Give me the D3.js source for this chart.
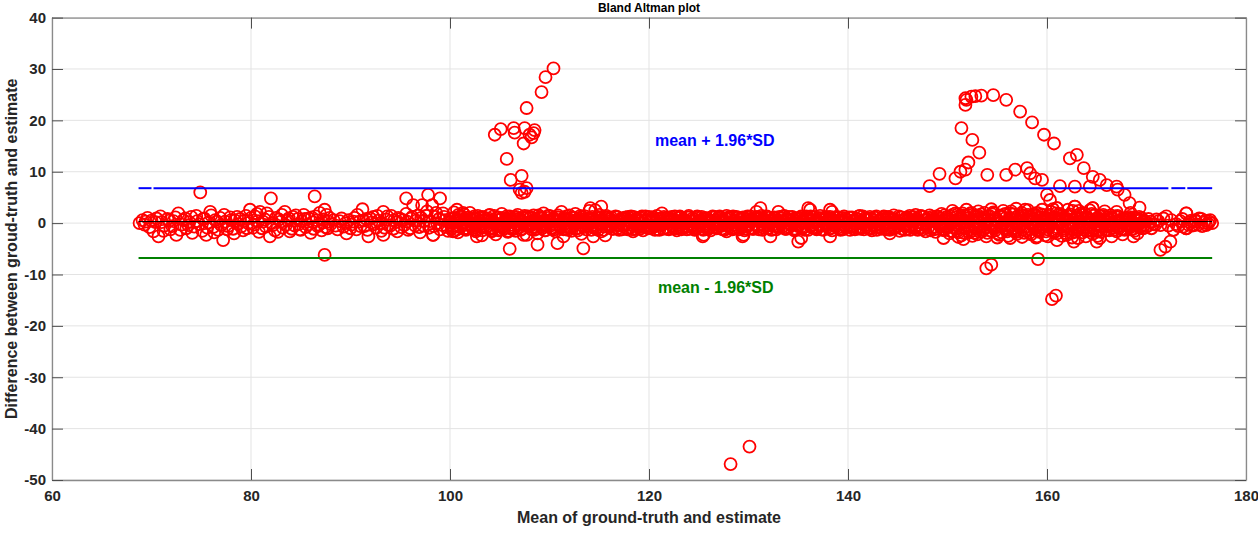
<!DOCTYPE html>
<html>
<head>
<meta charset="utf-8">
<script src="https://cdn.jsdelivr.net/npm/d3@7"></script>
<style>
  body { margin: 0; background: #fff; }
  svg text { font-family: "Liberation Sans", Arial, Helvetica, sans-serif; font-weight: bold; }
</style>
</head>
<body>
<div id="holder"></div>
<script>
// axis ticks
var xTicks = [60, 80, 100, 120, 140, 160, 180];
var yTicks = [-50, -40, -30, -20, -10, 0, 10, 20, 30, 40];

// limits of agreement
var meanDiff = 0.3;
var upperLoA = 6.8;
var lowerLoA = -6.8;
var lineRange = [68.7, 176.6];
var upperPieces = [[68.7, 70.0], [70.2, 172.2], [172.5, 173.9], [174.1, 176.6]];

// [mean, difference] pairs
var bandLeft = [
  [68.8,0.0],[69.1,0.6],[69.4,0.3],[69.6,1.0],[70.0,0.5],[70.2,-1.6],[70.5,0.9],[70.7,-2.6],[71.0,0.2],[71.3,-0.5],
  [71.6,0.8],[71.9,-1.2],[72.2,0.4],[72.5,-2.3],[72.7,1.9],[73.0,-0.3],[73.2,0.6],[73.5,-1.0],[73.8,0.2],[74.0,1.2],
  [74.3,-0.7],[74.6,0.4],[74.9,6.0],[75.1,-1.5],[75.3,0.9],[75.5,-2.3],[75.7,0.1],[75.9,2.2],[76.2,-0.8],[76.4,0.6],
  [76.7,-1.3],[76.9,1.0],[77.2,-3.3],[77.4,0.3],[77.7,-0.6],[77.9,1.1],[78.2,-1.1],[78.4,0.5],[78.7,-0.2],[78.9,0.8],
  [79.2,-1.4],[79.5,1.4],[79.7,0.0],[79.9,2.6],[80.2,-0.9],[80.4,1.3],[80.7,0.4],[80.9,2.2],[81.1,-1.0],[81.4,0.7],
  [81.6,1.9],[81.9,-2.6],[82.0,4.8],[82.2,-0.4],[82.5,1.0],[82.7,-1.7],[83.0,0.3],[83.2,-0.9],[83.4,2.2],[83.7,0.5],
  [83.9,-1.6],[84.2,1.2],[84.4,-0.5],[84.7,0.8],[84.9,-1.2],[85.1,0.4],[85.3,1.6],[85.5,-0.8],[85.8,0.9],[86.0,-1.9],
  [86.2,0.2],[86.4,5.2],[86.5,1.3],[86.7,-0.6],[86.9,2.0],[87.1,-1.4],[87.3,0.7],[87.4,2.6],[87.4,-6.2],[87.6,1.6],
  [87.7,-1.0],[87.8,0.3],[88.0,-0.2],[88.5,-0.5],[88.9,0.4],[89.3,-0.7],[89.6,-2.0],[89.8,0.6],[90.1,-0.3],[90.4,1.0],
  [90.6,-1.2],[90.9,0.3],[91.2,2.7],[91.4,-0.6],[91.6,0.8],[91.8,-2.6],[92.1,0.1],[92.3,1.2],[92.6,-0.9],[92.8,0.5],
  [93.1,-1.5],[93.3,2.2],[93.3,-2.3],[93.6,0.7],[93.8,-0.4],[94.1,1.4],[94.3,-1.1],[94.6,0.2],[94.8,1.0],[95.1,-0.8],
  [95.3,0.6],[95.6,4.8],[95.6,1.8],[95.8,-1.3],[96.1,0.9],[96.3,3.5],[96.5,-0.5],[96.8,1.5],[97.0,-1.8],[97.2,3.5],
  [97.4,0.4],[97.8,5.5],[97.7,2.3],[97.9,-0.9],[98.2,3.5],[98.3,-2.3],[98.5,1.2],[98.7,0.0],[99.0,4.8],[99.0,-1.2],
  [99.3,1.9],[99.5,0.6],[99.8,-1.5]
];

var bandLeft2 = [
  [69.3,-0.3],[69.8,-0.8],[70.4,0.2],[70.9,1.3],[71.2,-1.5],[71.8,0.5],[72.1,-0.6],[72.4,1.1],[72.9,-1.3],[73.4,0.9],
  [73.7,-0.4],[74.1,-1.9],[74.5,1.4],[74.8,-0.2],[75.2,0.8],[75.6,-0.9],[76.0,1.5],[76.3,-1.8],[76.6,0.3],[77.0,-0.4],
  [77.3,1.6],[77.6,-1.2],[78.0,0.6],[78.3,-2.0],[78.6,1.2],[79.0,-0.7],[79.3,0.4],[79.6,-1.0],[80.0,1.0],[80.3,-0.3],
  [80.6,1.8],[80.8,-1.7],[81.2,0.3],[81.5,-0.7],[81.8,1.2],[82.1,0.0],[82.4,-1.4],[82.8,0.7],[83.1,1.6],[83.5,-0.4],
  [83.8,0.9],[84.1,-1.1],[84.5,1.5],[84.8,-0.2],[85.0,-1.3],[85.4,0.8],[85.7,-0.3],[86.1,1.1],[86.3,-1.1],[86.6,0.6],
  [86.8,-0.3],[87.2,0.1],[87.5,-0.8],[87.9,1.0],[88.3,0.6],[88.7,-1.2],[89.1,0.9],[89.5,0.0],[90.0,-1.0],[90.3,0.3],
  [90.7,1.6],[91.0,-0.6],[91.3,0.5],[91.7,-1.3],[92.0,0.9],[92.4,-0.2],[92.7,1.4],[93.0,0.0],[93.4,-0.9],[93.7,1.3],
  [94.0,-0.5],[94.4,0.6],[94.7,-1.6],[95.0,0.8],[95.4,-0.4],[95.7,0.3],[96.0,-1.0],[96.2,1.2],[96.6,0.5],[96.9,-0.8],
  [97.1,1.0],[97.3,-0.5],[97.6,1.4],[98.0,0.4],[98.4,-0.6],[98.6,2.0],[98.9,0.8],[99.2,-0.4],[99.4,1.2],[99.7,-0.8],
  [99.9,0.3]
];

var bandMid = [
  [100.0,0.8],[100.2,-1.0],[100.4,2.1],[100.6,0.3],[100.8,-1.8],[101.0,1.2],[101.2,-0.4],[101.4,1.7],[101.6,-1.3],[101.8,0.5],
  [102.0,2.0],[102.2,-0.7],[102.4,0.9],[102.6,-1.6],[102.8,1.4],[103.0,-0.2],[103.2,-2.4],[103.4,1.0],[103.6,-0.9],[103.8,0.6],
  [104.0,1.6],[104.2,-1.4],[104.4,0.2],[104.6,-2.2],[104.8,1.1],[105.0,-0.6],[105.2,1.8],[105.4,-1.1],[105.6,0.4],[105.8,-1.7],
  [106.0,1.3],[106.2,-0.3],[106.4,0.8],[106.6,-1.5],[106.8,1.6],[107.0,-0.8],[107.2,0.5],[107.4,-2.3],[107.6,1.2],[107.8,-0.5],
  [108.0,0.9],[108.2,-1.2],[108.4,1.5],[108.6,-0.1],[108.8,-2.0],[109.0,1.0],[109.2,-0.7],[109.4,1.9],[109.6,-1.4],[109.8,0.3],
  [110.0,1.4],[110.2,-0.9],[110.4,0.6],[110.6,-1.6],[110.8,1.1],[111.0,-0.4],[111.2,2.2],[111.4,-1.2],[111.6,0.7],[111.8,-0.8],
  [112.0,1.5],[112.2,-1.5],[112.4,0.2],[112.6,1.8],[112.8,-1.0],[113.0,0.9],[113.2,-2.1],[113.4,0.4],[113.6,1.3],[113.8,-0.6],
  [114.0,2.4],[114.2,-1.3],[114.4,0.8],[114.6,2.5],[114.8,-0.9],[115.0,1.6],[115.2,-1.6],[115.4,0.5],[115.6,-2.4],[115.8,1.0],
  [116.0,-0.5],[116.2,1.1],[116.4,-1.1],[116.6,0.3],[116.8,1.2],[117.0,-1.3],[117.2,0.6],[117.4,-0.2],[117.6,1.0],[117.8,-1.0],
  [118.0,0.4],[118.2,1.3],[118.4,-1.2],[118.6,0.1],[118.8,0.9],[119.0,-0.8],[119.2,1.1],[119.4,-1.4],[119.6,0.5],[119.8,-0.3],
  [120.0,1.2],[120.2,-1.0],[120.4,0.7],[120.6,-1.3],[120.8,1.4],[121.0,-0.4],[121.2,0.8],[121.4,-1.1],[121.6,0.2],[121.8,1.0],
  [122.0,-1.2],[122.2,0.6],[122.4,-0.6],[122.6,1.3],[122.8,-1.4],[123.0,0.3],[123.2,1.1],[123.4,-0.9],[123.6,0.5],[123.8,-1.2],
  [124.0,1.4],[124.2,-0.2],[124.4,0.9],[124.6,-1.3],[124.8,1.2],[125.0,-0.7],[125.2,0.4],[125.4,-1.1],[125.6,1.0],[125.8,-0.5],
  [126.0,0.7],[126.2,-1.4],[126.4,1.3],[126.6,0.0],[126.8,-1.0],[127.0,1.1],[127.2,-0.6],[127.4,0.6],[127.6,-1.3],[127.8,1.4],
  [128.0,-0.3],[128.2,0.9],[128.4,-1.2],[128.6,0.4],[128.8,1.2],[129.0,-0.9],[129.2,0.2],[129.4,1.0],[129.6,-1.4],[129.8,0.7],
  [130.0,-0.5],[130.2,1.3],[130.4,-1.1],[130.6,0.5],[130.8,2.2],[131.0,-0.8],[131.2,1.0],[131.4,-1.3],[131.6,0.3],[131.8,1.2],
  [132.0,-1.0],[132.2,0.6],[132.4,-0.4],[132.6,1.1],[132.8,-1.2],[133.0,0.2],[133.2,0.9],[133.4,-0.7],[133.6,1.4],[133.8,-1.1],
  [134.0,0.5],[134.2,-0.2],[134.4,1.2],[134.6,-1.4],[134.8,0.8],[135.0,-0.6],[135.2,1.0],[135.4,-1.0],[135.6,0.3],[135.8,1.3],
  [136.0,-1.3],[136.2,0.7],[136.4,-0.3],[136.6,1.1],[136.8,-0.9],[137.0,0.4],[137.2,1.4],[137.4,-1.2],[137.6,0.1],[137.8,0.9],
  [138.0,-0.7],[138.2,1.2],[138.4,-1.4],[138.6,0.6],[138.8,-0.1],[139.0,1.0],[139.2,-1.1],[139.4,0.4],[139.6,1.3],[139.8,-0.8],
  [140.0,0.2],[140.2,-1.3],[140.4,1.1],[140.6,-0.5],[140.8,0.8],[141.0,-1.0],[141.2,1.4],[141.4,0.0],[141.6,-1.2],[141.8,0.7],
  [142.0,-0.4],[142.2,1.2],[142.4,-1.4],[142.6,0.5],[142.8,1.0],[143.0,-0.8],[143.2,0.3],[143.4,-1.1],[143.6,1.3],[143.8,-0.2],
  [144.0,0.9],[144.2,-1.3],[144.4,0.6],[144.6,1.5],[144.8,-0.9],[145.0,0.1],[145.2,-1.5],[145.4,1.1],[145.6,-0.4],[145.8,0.8],
  [146.0,-1.1],[146.2,1.4],[146.4,-0.6],[146.6,0.5],[146.8,1.6],[147.0,-1.3],[147.2,0.2],[147.4,-0.8],[147.6,1.2],[147.8,-1.6],
  [148.0,0.7],[148.2,1.5],[148.4,-1.0],[148.6,0.3],[148.8,-1.7],[149.0,1.3],[149.2,-0.3],[149.4,1.8],[149.6,-1.2],[149.8,0.5]
];

var bandMid2 = [
  [100.1,0.2],[100.3,-0.6],[100.5,1.0],[100.7,-1.2],[100.9,0.5],[101.1,1.3],[101.3,-0.3],[101.5,0.7],[101.7,-1.0],[101.9,1.1],
  [102.1,-0.4],[102.3,0.6],[102.5,-1.3],[102.7,0.9],[102.9,0.1],[103.1,-0.8],[103.3,1.2],[103.5,-0.5],[103.7,0.3],[103.9,1.5],
  [104.1,-1.1],[104.3,0.4],[104.5,-0.2],[104.7,1.0],[104.9,-1.4],[105.1,0.7],[105.3,-0.7],[105.5,0.2],[105.7,1.3],[105.9,-0.9],
  [106.1,0.6],[106.3,-1.2],[106.5,1.1],[106.7,-0.1],[106.9,0.8],[107.1,-1.3],[107.3,0.3],[107.5,1.4],[107.7,-0.6],[107.9,0.0],
  [108.1,1.2],[108.3,-0.8],[108.5,0.4],[108.7,-1.1],[108.9,1.5],[109.1,-0.3],[109.3,0.9],[109.5,-1.4],[109.7,0.1],[109.9,1.0],
  [110.1,-0.5],[110.3,0.8],[110.5,-1.2],[110.7,0.3],[110.9,1.1],[111.1,-0.9],[111.3,0.5],[111.5,-0.2],[111.7,1.3],[111.9,-1.3],
  [112.1,0.4],[112.3,-0.6],[112.5,1.0],[112.7,-1.0],[112.9,0.2],[113.1,1.4],[113.3,-0.4],[113.5,0.7],[113.7,-1.2],[113.9,0.9],
  [114.1,-0.1],[114.3,1.2],[114.5,-0.8],[114.7,0.5],[114.9,-1.3],[115.1,1.0],[115.3,0.0],[115.5,-0.7],[115.7,1.4],[115.9,-0.3],
  [116.1,0.8],[116.3,-1.1],[116.5,0.3],[116.7,1.1],[116.9,-0.5],[117.1,0.6],[117.3,-1.2],[117.5,0.9],[117.7,-0.2],[117.9,1.2],
  [118.1,-0.9],[118.3,0.2],[118.5,1.0],[118.7,-0.4],[118.9,0.7],[119.1,-1.1],[119.3,1.3],[119.5,-0.6],[119.7,0.4],[119.9,-1.0],
  [120.1,0.5],[120.3,1.1],[120.5,-0.7],[120.7,0.1],[120.9,-1.2],[121.1,0.9],[121.3,-0.3],[121.5,1.2],[121.7,-0.9],[121.9,0.3],
  [122.1,1.0],[122.3,-0.5],[122.5,0.7],[122.7,-1.0],[122.9,0.2],[123.1,1.3],[123.3,-0.8],[123.5,0.6],[123.7,-0.1],[123.9,1.1],
  [124.1,-1.1],[124.3,0.4],[124.5,-0.4],[124.7,1.0],[124.9,-0.9],[125.1,0.2],[125.3,1.2],[125.5,-0.6],[125.7,0.8],[125.9,-1.2],
  [126.1,0.3],[126.3,1.1],[126.5,-0.8],[126.7,0.6],[126.9,-0.2],[127.1,1.3],[127.3,-1.1],[127.5,0.1],[127.7,0.9],[127.9,-0.5],
  [128.1,1.2],[128.3,-1.0],[128.5,0.5],[128.7,-0.3],[128.9,1.0],[129.1,-1.2],[129.3,0.7],[129.5,0.0],[129.7,-0.7],[129.9,1.3],
  [130.1,-0.2],[130.3,0.8],[130.5,-1.1],[130.7,1.1],[130.9,-0.5],[131.1,0.3],[131.3,1.4],[131.5,-0.9],[131.7,0.6],[131.9,-0.4],
  [132.1,1.0],[132.3,-1.3],[132.5,0.4],[132.7,0.9],[132.9,-0.6],[133.1,1.2],[133.3,-0.2],[133.5,0.5],[133.7,-1.1],[133.9,0.8],
  [134.1,-0.8],[134.3,1.1],[134.5,0.1],[134.7,-1.2],[134.9,0.7],[135.1,-0.4],[135.3,1.3],[135.5,-0.9],[135.7,0.2],[135.9,1.0],
  [136.1,0.4],[136.3,-0.6],[136.5,1.2],[136.7,-1.0],[136.9,0.6],[137.1,-0.2],[137.3,0.9],[137.5,-1.3],[137.7,1.1],[137.9,0.0],
  [138.1,-1.1],[138.3,0.7],[138.5,0.3],[138.7,-0.5],[138.9,1.2],[139.1,-0.8],[139.3,0.5],[139.5,-1.2],[139.7,0.9],[139.9,-0.1],
  [140.1,1.1],[140.3,-0.7],[140.5,0.4],[140.7,-1.2],[140.9,0.8],[141.1,0.1],[141.3,-0.9],[141.5,1.3],[141.7,-0.4],[141.9,0.6],
  [142.1,-1.0],[142.3,0.9],[142.5,-0.3],[142.7,1.1],[142.9,-1.3],[143.1,0.4],[143.3,0.8],[143.5,-0.6],[143.7,1.2],[143.9,-0.9],
  [144.1,0.2],[144.3,1.0],[144.5,-1.1],[144.7,0.7],[144.9,-0.5],[145.1,1.3],[145.3,-0.2],[145.5,0.5],[145.7,-1.3],[145.9,1.1],
  [146.1,-0.6],[146.3,0.3],[146.5,1.2],[146.7,-1.0],[146.9,0.8],[147.1,-0.3],[147.3,1.4],[147.5,-1.2],[147.7,0.6],[147.9,0.0],
  [148.1,1.0],[148.3,-1.4],[148.5,0.5],[148.7,-0.7],[148.9,1.3],[149.1,-0.2],[149.3,0.9],[149.5,-1.1],[149.7,1.5],[149.9,-0.5],
  [150.1,0.7],[150.3,-1.5],[150.5,1.6],[150.7,-0.3],[150.9,1.1],[151.1,-1.8],[151.3,0.4],[151.5,1.9],[151.7,-1.0],[151.9,0.2],
  [152.1,1.5],[152.3,-1.2],[152.5,0.6],[152.7,-1.9],[152.9,1.3],[153.1,-0.5],[153.3,0.9],[153.5,-1.6],[153.7,2.0],[153.9,-0.1],
  [154.1,0.8],[154.3,-1.4],[154.5,1.7],[154.7,-0.8],[154.9,0.3],[155.1,-2.0],[155.3,1.2],[155.5,-0.6],[155.7,1.6],[155.9,-1.3],
  [156.1,0.5],[156.3,1.9],[156.5,-1.1],[156.7,0.2],[156.9,-1.7],[157.1,1.4],[157.3,-0.4],[157.5,1.0],[157.7,-1.9],[157.9,0.7],
  [158.1,1.6],[158.3,-1.2],[158.5,0.3],[158.7,1.8],[158.9,-0.7],[159.1,-1.5],[159.3,1.1],[159.5,-0.2],[159.7,0.9],[159.9,-1.6],
  [160.1,1.4],[160.3,-0.5],[160.5,0.6],[160.7,-1.8],[160.9,1.9],[161.1,-0.9],[161.3,0.2],[161.5,1.3],[161.7,-1.4],[161.9,0.8],
  [162.1,-0.6],[162.3,1.7],[162.5,-1.9],[162.7,0.5],[162.9,1.1],[163.1,-1.2],[163.3,0.3],[163.5,1.6],[163.7,-0.8],[163.9,-1.5],
  [164.1,1.0],[164.3,-0.3],[164.5,1.8],[164.7,-1.1],[164.9,0.4],[165.1,-1.6],[165.3,1.3],[165.5,-0.7],[165.7,0.6],[165.9,-1.4],
  [166.1,1.2],[166.3,-0.5],[166.5,0.9],[166.7,-1.3],[166.9,0.2],[167.1,1.4],[167.3,-0.9],[167.5,0.5],[167.7,-1.1],[167.9,1.0],
  [168.1,-0.4],[168.3,0.8],[168.5,-1.2],[168.7,1.1],[168.9,-0.2],[169.1,0.6],[169.3,-0.9],[169.5,1.0],[169.7,-0.5],[169.9,0.3]
];

var bandMid3 = [
  [100.05,-0.3],[100.25,0.9],[100.45,-1.5],[100.65,0.4],[100.85,1.6],[101.05,-0.8],[101.25,0.1],[101.45,-1.1],[101.65,1.0],[101.85,-0.2],
  [102.05,0.7],[102.25,-1.0],[102.45,1.3],[102.65,0.0],[102.85,-0.5],[103.05,1.1],[103.25,-1.4],[103.45,0.5],[103.65,-0.7],[103.85,0.9],
  [104.05,0.3],[104.25,-0.9],[104.45,1.4],[104.65,-0.4],[104.85,0.6],[105.05,-1.2],[105.25,1.0],[105.45,-0.1],[105.65,0.8],[105.85,-1.5],
  [106.05,1.0],[106.25,0.2],[106.45,-0.9],[106.65,1.2],[106.85,-0.4],[107.05,0.5],[107.25,-1.1],[107.45,0.9],[107.65,-0.3],[107.85,1.3],
  [108.05,-0.6],[108.25,0.4],[108.45,-1.3],[108.65,0.7],[108.85,0.0],[109.05,1.2],[109.25,-1.0],[109.45,0.5],[109.65,-0.4],[109.85,1.4],
  [110.05,0.2],[110.25,-1.1],[110.45,0.9],[110.65,-0.3],[110.85,1.5],[111.05,-0.7],[111.25,0.1],[111.45,1.0],[111.65,-1.2],[111.85,0.6],
  [112.05,-0.9],[112.25,1.1],[112.45,-0.2],[112.65,0.6],[112.85,-1.4],[113.05,0.3],[113.25,1.2],[113.45,-0.8],[113.65,0.4],[113.85,-0.1],
  [114.05,1.0],[114.25,-0.5],[114.45,0.3],[114.65,-1.1],[114.85,1.2],[115.05,-0.2],[115.25,0.7],[115.45,-1.3],[115.65,0.5],[115.85,1.1],
  [116.05,-0.8],[116.25,0.5],[116.45,-0.1],[116.65,1.3],[116.85,-1.0],[117.05,0.2],[117.25,0.9],[117.45,-0.6],[117.65,1.1],[117.85,-1.2],
  [118.05,0.6],[118.25,-0.3],[118.45,1.2],[118.65,-1.1],[118.85,0.4],[119.05,1.0],[119.25,-0.7],[119.45,0.0],[119.65,1.3],[119.85,-0.5],
  [120.05,-0.9],[120.25,0.4],[120.45,1.1],[120.65,-0.5],[120.85,0.8],[121.05,-1.3],[121.25,0.3],[121.45,-0.1],[121.65,1.0],[121.85,-1.1],
  [122.05,0.5],[122.25,1.2],[122.45,-0.9],[122.65,0.2],[122.85,-0.4],[123.05,1.0],[123.25,-1.2],[123.45,0.8],[123.65,0.1],[123.85,-0.7],
  [124.05,1.1],[124.25,-0.6],[124.45,0.3],[124.65,-1.0],[124.85,1.3],[125.05,-0.3],[125.25,0.6],[125.45,-1.3],[125.65,0.2],[125.85,0.9],
  [126.05,-1.0],[126.25,0.5],[126.45,-0.2],[126.65,1.2],[126.85,-0.8],[127.05,0.3],[127.25,1.0],[127.45,-1.2],[127.65,0.4],[127.85,-0.4],
  [128.05,0.9],[128.25,-0.6],[128.45,1.3],[128.65,-1.0],[128.85,0.1],[129.05,0.7],[129.25,-0.4],[129.45,1.1],[129.65,-1.1],[129.85,0.3],
  [130.05,1.0],[130.25,-0.9],[130.45,0.6],[130.65,-0.2],[130.85,1.2],[131.05,-1.2],[131.25,0.4],[131.45,0.8],[131.65,-0.6],[131.85,1.3],
  [132.05,-0.5],[132.25,0.3],[132.45,-1.2],[132.65,1.0],[132.85,0.5],[133.05,-0.8],[133.25,0.0],[133.45,1.3],[133.65,-1.0],[133.85,0.6],
  [134.05,1.2],[134.25,-0.4],[134.45,0.7],[134.65,-1.1],[134.85,0.3],[135.05,1.0],[135.25,-0.8],[135.45,0.5],[135.65,-1.3],[135.85,0.8],
  [136.05,-0.2],[136.25,1.3],[136.45,-0.9],[136.65,0.3],[136.85,-1.2],[137.05,1.0],[137.25,-0.5],[137.45,0.6],[137.65,-0.1],[137.85,1.2],
  [138.05,0.8],[138.25,-1.0],[138.45,0.2],[138.65,1.1],[138.85,-0.6],[139.05,0.4],[139.25,-1.3],[139.45,1.0],[139.65,-0.3],[139.85,0.7],
  [140.05,-0.6],[140.25,1.0],[140.45,-1.0],[140.65,0.6],[140.85,-0.2],[141.05,1.3],[141.25,-1.1],[141.45,0.3],[141.65,0.9],[141.85,-0.8],
  [142.05,0.6],[142.25,-1.1],[142.45,0.2],[142.65,-0.6],[142.85,1.3],[143.05,-0.9],[143.25,0.5],[143.45,1.0],[143.65,-0.3],[143.85,-1.2],
  [144.05,1.2],[144.25,-0.4],[144.45,0.8],[144.65,-1.0],[144.85,0.3],[145.05,-0.6],[145.25,1.1],[145.45,-1.1],[145.65,0.7],[145.85,-0.2],
  [146.05,0.9],[146.25,-1.3],[146.45,0.4],[146.65,1.1],[146.85,-0.7],[147.05,0.2],[147.25,-1.0],[147.45,1.3],[147.65,-0.4],[147.85,0.6],
  [148.05,-0.9],[148.25,0.3],[148.45,1.2],[148.65,-1.2],[148.85,0.6],[149.05,1.0],[149.25,-0.6],[149.45,0.2],[149.65,-1.4],[149.85,1.1],
  [150.05,-0.7],[150.25,1.3],[150.45,-1.6],[150.65,0.5],[150.85,-1.1],[151.05,1.7],[151.25,-0.2],[151.45,0.8],[151.65,-1.9],[151.85,1.4],
  [152.05,-0.4],[152.25,1.8],[152.45,-1.5],[152.65,0.3],[152.85,-1.0],[153.05,1.5],[153.25,-1.7],[153.45,0.6],[153.65,1.1],[153.85,-0.9],
  [154.05,1.3],[154.25,-0.2],[154.45,-1.6],[154.65,1.9],[154.85,-0.9],[155.05,0.4],[155.25,1.5],[155.45,-1.8],[155.65,0.1],[155.85,1.0],
  [156.05,-1.2],[156.25,1.0],[156.45,-0.5],[156.65,1.7],[156.85,-1.4],[157.05,0.4],[157.25,-0.8],[157.45,2.0],[157.65,0.0],[157.85,-1.5],
  [158.05,0.5],[158.25,-1.9],[158.45,1.1],[158.65,-0.4],[158.85,1.4],[159.05,0.2],[159.25,-1.3],[159.45,1.7],[159.65,-0.8],[159.85,0.6],
  [160.05,-1.2],[160.25,1.6],[160.45,-0.1],[160.65,0.9],[160.85,-1.6],[161.05,0.5],[161.25,1.8],[161.45,-0.7],[161.65,1.0],[161.85,-1.9],
  [162.05,0.8],[162.25,-1.1],[162.45,1.3],[162.65,-0.2],[162.85,-1.7],[163.05,1.5],[163.25,-0.5],[163.45,0.9],[163.65,-1.2],[163.85,1.8],
  [164.05,-0.8],[164.25,0.6],[164.45,-1.5],[164.65,1.4],[164.85,-0.3],[165.05,1.0],[165.25,-1.2],[165.45,0.3],[165.65,1.6],[165.85,-0.6],
  [166.05,0.4],[166.25,-1.4],[166.45,1.0],[166.65,-0.4],[166.85,1.3],[167.05,-0.8],[167.25,0.6],[167.45,-1.2],[167.65,0.8],[167.85,-0.3],
  [168.05,1.0],[168.25,-0.7],[168.45,0.4],[168.65,-1.1],[168.85,0.9],[169.05,-0.2],[169.25,1.2],[169.45,-0.6],[169.65,0.3],[169.85,-0.9]
];

var bandRight = [
  [150.0,1.2],[150.2,-2.0],[150.4,0.4],[150.6,-0.9],[150.8,1.9],[151.0,-1.5],[151.2,0.8],[151.4,-2.4],[151.6,1.5],[151.8,-0.4],
  [152.0,0.9],[152.2,-1.8],[152.4,2.0],[152.6,-0.7],[152.8,1.1],[153.0,-2.2],[153.2,0.3],[153.4,1.7],[153.6,-1.2],[153.8,0.6],
  [154.0,-1.9],[154.2,1.4],[154.4,-0.5],[154.6,2.1],[154.8,-1.4],[155.0,0.7],[155.2,-2.3],[155.4,1.2],[155.6,-0.2],[155.8,1.8],
  [156.0,-1.6],[156.2,0.5],[156.4,2.3],[156.6,-1.0],[156.8,1.0],[157.0,-2.1],[157.2,0.2],[157.4,1.6],[157.6,-1.3],[157.8,2.6],
  [158.0,-0.6],[158.2,1.3],[158.4,-2.2],[158.6,0.8],[158.8,-1.0],[159.0,2.0],[159.2,-1.7],[159.4,0.4],[159.6,1.5],[159.8,-2.4],
  [160.0,0.9],[160.2,-0.8],[160.4,2.2],[160.6,-1.5],[160.8,1.1],[161.0,-2.0],[161.2,0.3],[161.4,1.7],[161.6,-1.1],[161.8,0.6],
  [162.0,-2.3],[162.2,1.4],[162.4,-0.4],[162.6,2.4],[162.8,-1.6],[163.0,0.8],[163.2,-0.9],[163.4,1.9],[163.6,-1.8],[163.8,0.2],
  [164.0,1.2],[164.2,-1.4],[164.4,0.6],[164.6,-2.1],[164.8,1.6],[165.0,-0.5],[165.2,0.9],[165.4,-1.7],[165.6,1.3],[165.8,-0.2],
  [166.0,-1.2],[166.2,0.7],[166.4,1.5],[166.6,-0.9],[166.8,0.3],[167.0,-1.6],[167.2,1.1],[167.4,-0.4],[167.6,0.8],[167.8,-1.3],
  [168.0,0.5],[168.2,1.2],[168.4,-0.8],[168.6,0.2],[168.8,-1.5],[169.0,0.9],[169.2,-0.3],[169.4,0.6],[169.6,-1.0],[169.8,0.4],
  [170.1,-0.6],[170.4,0.3],[170.7,-0.2],[171.0,0.7],[171.4,-0.4],[172.0,1.3],[172.7,-1.3],[173.0,-0.2],[173.4,0.4],[173.7,-0.7],
  [174.0,1.9],[174.0,-1.0],[174.3,0.2],[174.6,-0.5],[174.9,0.6],[175.2,-0.3],[175.5,0.8],[175.8,0.1],[176.0,-0.4],[176.3,0.3],
  [176.6,0.0],[170.2,0.8],[170.5,-1.0],[170.9,-0.3],[171.2,0.4],[171.7,0.9],[172.2,-0.5],[172.5,0.6],[173.2,-0.6],[173.6,0.8],
  [174.2,-0.3],[174.5,0.5],[174.8,-0.4],[175.0,0.3],[175.3,0.9],[175.6,-0.6],[175.9,0.5],[176.2,-0.1],[176.4,0.6]
];

var bandRightEdges = [
  [150.5,2.4],[151.1,-2.7],[151.9,2.6],[152.5,-2.5],[153.1,2.3],[153.9,-2.6],[154.4,2.7],[155.0,-2.8],[155.6,2.4],[156.1,-2.5],
  [156.9,2.8],[157.5,-2.7],[158.1,2.5],[158.9,-2.8],[159.5,2.6],[160.1,-2.6],[160.6,2.7],[161.5,-2.5],[162.1,2.6],[162.5,-2.8],
  [163.2,2.4],[163.9,-2.6],[164.3,2.5],[165.1,-2.5],[165.8,2.3],[166.5,-2.6],[167.0,2.2],[167.6,-2.2],[168.4,2.0],[169.1,-2.0]
];

var bandEdges = [
  [100.7,2.6],[101.3,2.0],[98.3,-2.3],[100.3,-1.6],[102.7,-2.6],[104.2,-1.6],[107.7,-2.3],[111.4,-2.6],[114.4,-2.6],[114.1,2.9],
  [115.2,3.2],[118.4,-1.6],[121.3,1.9],[125.4,-2.6],[125.5,-2.3],[127.8,-1.6],[129.4,-2.6],[129.5,-2.3],[131.2,2.9],[132.2,-2.6],
  [133.0,2.2],[135.0,-3.6],[135.3,-2.9],[136.0,2.9],[136.2,2.6],[138.2,-2.6],[138.2,2.6],[138.4,2.2],[144.2,-2.0],[149.6,-2.9],
  [151.6,-3.1],[156.3,-2.9],[159.0,-2.6],[161.0,-3.3],[162.7,-3.6],[163.1,-2.9],[165.0,-3.6],[165.3,-2.9],[168.7,-2.6],
  [161.0,2.9],[162.8,3.2],[164.6,2.9],[169.3,3.0],[168.3,3.9]
];

var clusterMid = [
  [110.4,30.1],[109.6,28.4],[109.2,25.5],[107.7,22.4],[104.5,17.2],[105.1,18.3],[106.4,18.5],[106.5,17.6],[107.5,18.5],[107.4,15.5],
  [108.5,18.1],[108.4,17.5],[108.0,17.2],[108.2,16.7],[105.7,12.5],[106.1,8.4],[107.2,9.2],[107.0,6.5],[107.5,6.1],[107.7,6.8],
  [107.2,5.9],[106.0,-5.0],[108.8,-4.2],[110.8,-3.9],[113.4,-4.9],[128.2,-46.9],[130.1,-43.5]
];

var clusterRight = [
  [151.8,24.3],[151.8,23.0],[151.9,24.0],[152.4,24.6],[152.8,24.7],[153.4,24.8],[154.6,24.9],[155.9,24.0],[157.3,21.7],[158.5,19.6],
  [159.7,17.2],[160.7,15.5],[162.3,12.6],[163.0,13.3],[163.7,10.7],[164.6,9.0],[165.3,8.4],[166.0,7.4],[167.0,7.1],[167.1,6.5],
  [167.8,5.5],[151.4,18.5],[152.5,16.2],[153.2,13.7],[152.1,11.8],[151.8,10.4],[151.3,10.0],[150.8,8.7],[149.2,9.6],[148.2,7.2],
  [154.0,9.4],[155.9,9.4],[156.8,10.4],[158.0,10.7],[158.3,9.7],[158.8,8.7],[159.5,8.4],[160.0,5.5],[160.3,4.5],[161.3,7.2],
  [162.8,7.1],[164.3,7.1],[161.0,2.9],[162.8,3.2],[164.6,2.9],[174.0,1.9],[171.4,-5.2],[171.9,-4.6],[172.4,-3.6],[172.7,-1.3],
  [174.0,-1.0],[153.9,-8.8],[154.4,-8.1],[159.1,-7.0],[160.5,-14.8],[160.9,-14.1]
];

var titleText = "Bland Altman plot";
var xLabel = "Mean of ground-truth and estimate";
var yLabel = "Difference between groud-truth and estimate";
var upperLabel = "mean + 1.96*SD";
var lowerLabel = "mean - 1.96*SD";
var upperLabelAt = [120.6, 15.0];
var lowerLabelAt = [120.9, -13.6];

var WIDTH = 1258,
    HEIGHT = 537,
    MARGINS = { top: 17.6, right: 12, bottom: 57, left: 52 };

var svg = d3.select("#holder").append("svg")
    .attr("width", WIDTH)
    .attr("height", HEIGHT);

var x = d3.scaleLinear().domain([60, 180]).range([MARGINS.left, WIDTH - MARGINS.right]);
var y = d3.scaleLinear().domain([-50, 40]).range([HEIGHT - MARGINS.bottom, MARGINS.top]);

// grid
svg.append("g").selectAll("line").data(xTicks).enter().append("line")
    .attr("x1", function(d) { return x(d); }).attr("x2", function(d) { return x(d); })
    .attr("y1", y(-50)).attr("y2", y(40))
    .attr("stroke", "#e3e3e3").attr("stroke-width", 1);
svg.append("g").selectAll("line").data(yTicks).enter().append("line")
    .attr("y1", function(d) { return y(d); }).attr("y2", function(d) { return y(d); })
    .attr("x1", x(60)).attr("x2", x(180))
    .attr("stroke", "#e3e3e3").attr("stroke-width", 1);

// points
var points = bandLeft.concat(bandLeft2, bandMid, bandMid2, bandMid3, bandRight, bandRightEdges, bandEdges, clusterMid, clusterRight);
svg.append("g").selectAll("circle").data(points).enter().append("circle")
    .attr("cx", function(d) { return x(d[0]); })
    .attr("cy", function(d) { return y(d[1]); })
    .attr("r", 6)
    .attr("fill", "none")
    .attr("stroke", "#ff0000")
    .attr("stroke-width", 1.8);

// mean and limit lines
svg.append("line")
    .attr("x1", x(lineRange[0])).attr("x2", x(lineRange[1]))
    .attr("y1", y(meanDiff)).attr("y2", y(meanDiff))
    .attr("stroke", "#000").attr("stroke-width", 1);
svg.append("g").selectAll("line").data(upperPieces).enter().append("line")
    .attr("x1", function(d) { return x(d[0]); }).attr("x2", function(d) { return x(d[1]); })
    .attr("y1", y(upperLoA)).attr("y2", y(upperLoA))
    .attr("stroke", "#0000ff").attr("stroke-width", 2);
svg.append("line")
    .attr("x1", x(lineRange[0])).attr("x2", x(lineRange[1]))
    .attr("y1", y(lowerLoA)).attr("y2", y(lowerLoA))
    .attr("stroke", "#008000").attr("stroke-width", 2);

svg.append("text")
    .attr("x", x(upperLabelAt[0])).attr("y", y(upperLabelAt[1]))
    .attr("fill", "#0000ff").attr("font-size", 16)
    .text(upperLabel);
svg.append("text")
    .attr("x", x(lowerLabelAt[0])).attr("y", y(lowerLabelAt[1]))
    .attr("fill", "#008000").attr("font-size", 16)
    .text(lowerLabel);

// axes, ticks inward on all four sides
var tickLen = 11;
var plain = function(d) { return String(d); };
var bottomAxis = svg.append("g")
    .attr("transform", "translate(0," + y(-50) + ")")
    .call(d3.axisBottom(x).tickValues(xTicks).tickFormat(plain).tickSizeInner(-tickLen).tickSizeOuter(0).tickPadding(8));
var topAxis = svg.append("g")
    .attr("transform", "translate(0," + y(40) + ")")
    .call(d3.axisTop(x).tickValues(xTicks).tickSizeInner(-tickLen).tickSizeOuter(0).tickFormat(""));
var leftAxis = svg.append("g")
    .attr("transform", "translate(" + x(60) + ",0)")
    .call(d3.axisLeft(y).tickValues(yTicks).tickFormat(plain).tickSizeInner(-tickLen).tickSizeOuter(0).tickPadding(6));
var rightAxis = svg.append("g")
    .attr("transform", "translate(" + x(180) + ",0)")
    .call(d3.axisRight(y).tickValues(yTicks).tickSizeInner(-tickLen).tickSizeOuter(0).tickFormat(""));

[bottomAxis, topAxis, leftAxis, rightAxis].forEach(function(g) {
  g.select(".domain").attr("stroke", "#8a8a8a").attr("stroke-width", 1.3);
  g.selectAll(".tick line").attr("stroke", "#4d4d4d").attr("stroke-width", 1);
  g.selectAll(".tick text")
      .attr("fill", "#262626")
      .attr("font-size", 15)
      .style("font-family", "\"Liberation Sans\", Arial, sans-serif")
      .style("font-weight", "bold");
});
bottomAxis.selectAll(".tick text").attr("dy", "0.85em");

svg.append("text")
    .attr("x", (x(60) + x(180)) / 2).attr("y", 12)
    .attr("text-anchor", "middle").attr("font-size", 12).attr("fill", "#000")
    .text(titleText);
svg.append("text")
    .attr("x", (x(60) + x(180)) / 2).attr("y", 523)
    .attr("text-anchor", "middle").attr("font-size", 16).attr("fill", "#262626")
    .text(xLabel);
svg.append("text")
    .attr("transform", "translate(17," + (y(-50) + y(40)) / 2 + ") rotate(-90)")
    .attr("text-anchor", "middle").attr("font-size", 16).attr("fill", "#262626")
    .text(yLabel);
</script>
</body>
</html>
